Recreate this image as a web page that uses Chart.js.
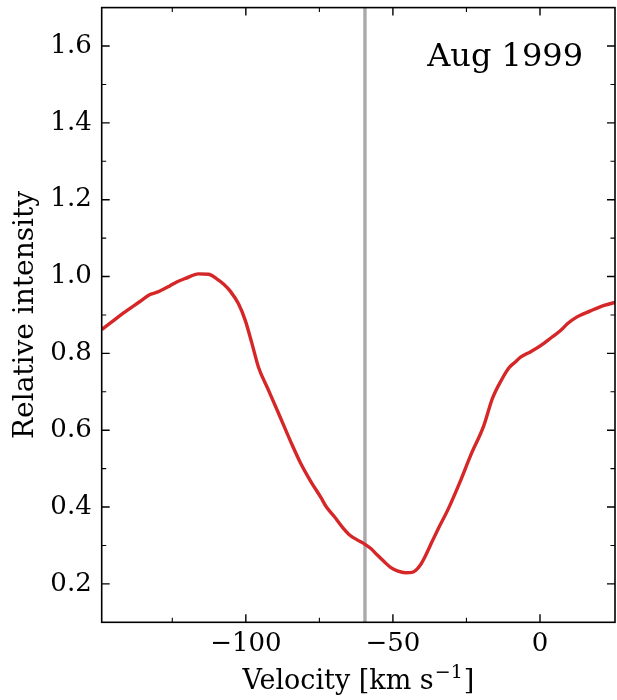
<!DOCTYPE html>
<html>
<head>
<meta charset="utf-8">
<script src="https://cdn.jsdelivr.net/npm/chart.js@4.4.1/dist/chart.umd.min.js"></script>
<style>
html,body{margin:0;padding:0;background:#fff;overflow:hidden;}
#wrap{width:617px;height:700px;position:relative;}
</style>
</head>
<body>
<div id="wrap"><canvas id="c" width="617" height="700"></canvas></div>
<script>
// ---- data ----
const velocity = [-149, -145, -141.8, -136, -132.6, -129.9, -126, -123.5, -120.5, -116.1, -112.7, -109.9, -107.5, -105.3, -102.5, -100.2, -98, -95.7, -92.4, -89, -84.9, -81.5, -78.1, -74.5, -72.6, -70, -67, -64.5, -62, -59.5, -57.5, -55.3, -53, -50.8, -48.5, -45.7, -43.5, -42.3, -40.6, -39, -37.3, -34.5, -31.5, -27, -23.6, -19.1, -16.2, -13, -10.6, -8.5, -6.6, -3, 0.2, 4, 7.1, 9.3, 12.6, 17, 21.8, 25.8];
const intensity = [0.862, 0.885, 0.904, 0.935, 0.953, 0.960, 0.975, 0.986, 0.995, 1.007, 1.006, 0.994, 0.980, 0.962, 0.929, 0.886, 0.828, 0.764, 0.706, 0.646, 0.573, 0.516, 0.469, 0.425, 0.400, 0.376, 0.346, 0.326, 0.314, 0.303, 0.292, 0.275, 0.258, 0.243, 0.234, 0.229, 0.230, 0.235, 0.250, 0.272, 0.300, 0.345, 0.390, 0.469, 0.534, 0.612, 0.682, 0.732, 0.762, 0.777, 0.790, 0.805, 0.820, 0.842, 0.860, 0.877, 0.895, 0.910, 0.925, 0.933];
const markerVelocity = -59.5;
const xMajorTicks = [-100, -50, 0];
const xMinorTicks = [-125, -75, -25];
const yMajorTicks = [0.2, 0.4, 0.6, 0.8, 1.0, 1.2, 1.4, 1.6];
const yMinorTicks = [0.3, 0.5, 0.7, 0.9, 1.1, 1.3, 1.5];
const xRange = [-149, 25.5];
const yRange = [0.1, 1.7];
const epochLabel = 'Aug 1999';
const xTitleMain = 'Velocity [km s';
const xTitleSup = '\u22121';
const xTitleEnd = ']';
const yTitle = 'Relative intensity';

const FONT = '"DejaVu Serif", "Liberation Serif", serif';

const framePlugin = {
  id: 'frame',
  afterDatasetsDraw(chart) {
    const {ctx, chartArea: a, scales: {x, y}} = chart;
    ctx.save();
    ctx.strokeStyle = '#000';
    ctx.lineWidth = 1.6;
    ctx.strokeRect(a.left, a.top, a.right - a.left, a.bottom - a.top);
    const tick = (v, len, axis) => {
      if (axis === 'x') {
        const px = x.getPixelForValue(v);
        ctx.beginPath();
        ctx.moveTo(px, a.bottom); ctx.lineTo(px, a.bottom - len);
        ctx.moveTo(px, a.top); ctx.lineTo(px, a.top + len);
        ctx.stroke();
      } else {
        const py = y.getPixelForValue(v);
        ctx.beginPath();
        ctx.moveTo(a.left, py); ctx.lineTo(a.left + len, py);
        ctx.moveTo(a.right, py); ctx.lineTo(a.right - len, py);
        ctx.stroke();
      }
    };
    ctx.lineWidth = 1.4;
    xMajorTicks.forEach(v => tick(v, 8, 'x'));
    yMajorTicks.forEach(v => tick(v, 8, 'y'));
    ctx.lineWidth = 1.1;
    xMinorTicks.forEach(v => tick(v, 4.5, 'x'));
    yMinorTicks.forEach(v => tick(v, 4.5, 'y'));
    ctx.fillStyle = '#000';
    ctx.font = '32px ' + FONT;
    ctx.textAlign = 'right';
    ctx.textBaseline = 'alphabetic';
    ctx.fillText(epochLabel, a.right - 32, a.top + 58);

    // x-axis title with superscript
    const mainFont = '27px ' + FONT;
    const supFont = '19px ' + FONT;
    ctx.font = mainFont;
    const w1 = ctx.measureText(xTitleMain).width;
    const w3 = ctx.measureText(xTitleEnd).width;
    ctx.font = supFont;
    const w2 = ctx.measureText(xTitleSup).width;
    const total = w1 + w2 + w3 + 2;
    const cx = (a.left + a.right) / 2;
    let sx = cx - total / 2;
    const base = 689;
    ctx.textAlign = 'left';
    ctx.font = mainFont;
    ctx.fillText(xTitleMain, sx, base);
    sx += w1 + 1;
    ctx.font = supFont;
    ctx.fillText(xTitleSup, sx, base - 11);
    sx += w2 + 1;
    ctx.font = mainFont;
    ctx.fillText(xTitleEnd, sx, base);
    ctx.restore();
  }
};

new Chart(document.getElementById('c'), {
  type: 'scatter',
  data: {
    datasets: [
      {
        data: velocity.map((v, i) => ({x: v, y: intensity[i]})),
        showLine: true,
        borderColor: '#d62728',
        borderWidth: 3.4,
        pointRadius: 0,
        cubicInterpolationMode: 'monotone',
        order: 1
      },
      {
        data: [{x: markerVelocity, y: yRange[0]}, {x: markerVelocity, y: yRange[1]}],
        showLine: true,
        borderColor: '#aaaaaa',
        borderWidth: 3.4,
        pointRadius: 0,
        order: 2
      }
    ]
  },
  plugins: [framePlugin],
  options: {
    responsive: false,
    animation: false,
    devicePixelRatio: 1,
    layout: {padding: {top: 7.6, right: 2, left: 0, bottom: 0}},
    plugins: {legend: {display: false}, tooltip: {enabled: false}},
    scales: {
      x: {
        type: 'linear',
        min: xRange[0], max: xRange[1],
        afterBuildTicks: s => { s.ticks = xMajorTicks.map(v => ({value: v})); },
        afterFit: s => { s.height = 77.7; s.paddingLeft = 0; s.paddingRight = 0; },
        grid: {display: false, drawTicks: false},
        border: {display: false},
        ticks: {
          color: '#000', padding: 6,
          font: {family: FONT, size: 26},
          maxRotation: 0,
          callback: v => (v < 0 ? '\u2212' + Math.abs(v) : String(v))
        },
        title: {display: false}
      },
      y: {
        type: 'linear',
        min: yRange[0], max: yRange[1],
        afterBuildTicks: s => { s.ticks = yMajorTicks.map(v => ({value: v})); },
        afterFit: s => { s.width = 101.7; s.paddingTop = 0; s.paddingBottom = 0; },
        grid: {display: false, drawTicks: false},
        border: {display: false},
        ticks: {
          color: '#000', padding: 10,
          font: {family: FONT, size: 26},
          callback: v => Number(v).toFixed(1)
        },
        title: {display: true, text: yTitle, color: '#000', font: {family: FONT, size: 28}, padding: {top: 9, bottom: 0}}
      }
    }
  }
});
</script>
</body>
</html>
